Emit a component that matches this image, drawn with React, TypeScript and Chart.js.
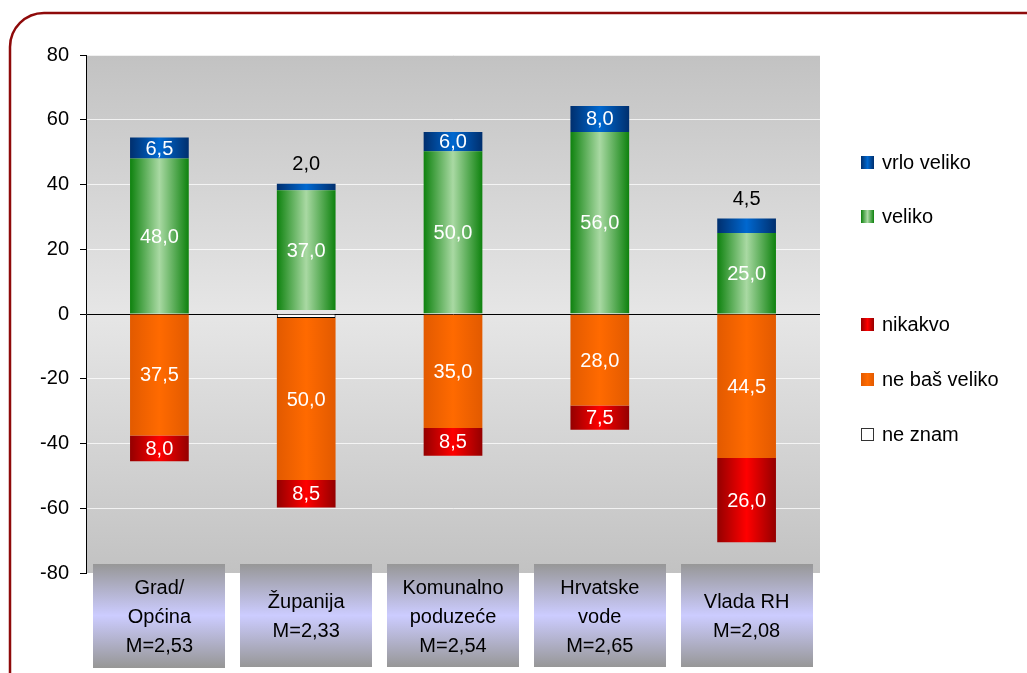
import React, { useEffect, useRef } from 'react';
import { Chart, registerables } from 'chart.js';

Chart.register(...registerables);

const categories: string[][] = [
  ['Grad/', 'Općina', 'M=2,53'],
  ['Županija', 'M=2,33'],
  ['Komunalno', 'poduzeće', 'M=2,54'],
  ['Hrvatske', 'vode', 'M=2,65'],
  ['Vlada RH', 'M=2,08'],
];
const vrloVeliko = [6.5, 2.0, 6.0, 8.0, 4.5];
const veliko = [48.0, 37.0, 50.0, 56.0, 25.0];
const neBasVeliko = [37.5, 50.0, 35.0, 28.0, 44.5];
const nikakvo = [8.0, 8.5, 8.5, 7.5, 26.0];
const neZnam = [0, 2.5, 0.5, 0.5, 0];
const yMin = -80;
const yMax = 80;
const yStep = 20;

const FONT = '"Liberation Sans", Arial, sans-serif';

const COLORS = {
  vrlo: ['#002f6e', '#0068d0'],
  veliko: ['#0e820e', '#a9d9a3'],
  neBas: ['#e25a00', '#ff6a00'],
  nikakvo: ['#940000', '#ff0000'],
};

const BAR_PCT = 0.4;

function barGrad(edge: string, center: string) {
  return (c: any) => {
    const chart = c.chart;
    const xs = chart.scales?.x;
    if (!xs || c.type !== 'data') return center;
    const cx = xs.getPixelForValue(c.dataIndex);
    const w = (xs.width / categories.length) * BAR_PCT;
    if (!isFinite(cx) || !isFinite(w) || w <= 0) return center;
    const g = chart.ctx.createLinearGradient(cx - w / 2, 0, cx + w / 2, 0);
    g.addColorStop(0, edge);
    g.addColorStop(0.5, center);
    g.addColorStop(1, edge);
    return g;
  };
}

const decorPlugin = {
  id: 'decor',
  beforeDraw(chart: any) {
    const { ctx, chartArea: a, width, height } = chart;
    ctx.save();
    ctx.fillStyle = '#ffffff';
    ctx.fillRect(0, 0, width, height);
    ctx.strokeStyle = '#8e0a0a';
    ctx.lineWidth = 2.5;
    ctx.beginPath();
    (ctx as any).roundRect(10, 13, 1060, 700, 34);
    ctx.stroke();
    const ys = chart.scales.y;
    const zero = ys.getPixelForValue(0);
    const g = ctx.createLinearGradient(0, a.top, 0, a.bottom);
    const zf = Math.min(1, Math.max(0, (zero - a.top) / (a.bottom - a.top)));
    g.addColorStop(0, '#c2c2c2');
    g.addColorStop(zf, '#e6e6e6');
    g.addColorStop(1, '#c2c2c2');
    ctx.fillStyle = g;
    ctx.fillRect(a.left, a.top, a.right - a.left, a.bottom - a.top);
    ctx.restore();
  },
  afterDatasetsDraw(chart: any) {
    const { ctx } = chart;
    ctx.save();
    chart.data.datasets.forEach((ds: any, di: number) => {
      if (ds.noLabel) return;
      const meta = chart.getDatasetMeta(di);
      meta.data.forEach((bar: any, i: number) => {
        const v = Math.abs(ds.data[i]);
        const p = bar.getProps(['x', 'y', 'base'], true);
        const txt = v.toFixed(1).replace('.', ',');
        const h = Math.abs(p.base - p.y);
        ctx.font = '20px ' + FONT;
        ctx.textAlign = 'center';
        ctx.textBaseline = 'middle';
        if (h < 18) {
          ctx.fillStyle = '#000000';
          ctx.fillText(txt, p.x, Math.min(p.y, p.base) - 19);
        } else {
          ctx.fillStyle = '#ffffff';
          ctx.fillText(txt, p.x, (p.y + p.base) / 2 + 1);
        }
      });
    });
    const xs = chart.scales.x;
    const a = chart.chartArea;
    const bw = 132;
    const top = a.bottom - 9;
    const bh = 103;
    categories.forEach((_, i) => {
      const cx = xs.getPixelForValue(i);
      const g = ctx.createLinearGradient(0, top, 0, top + bh);
      g.addColorStop(0, '#979797');
      g.addColorStop(0.5, '#ccccff');
      g.addColorStop(1, '#979797');
      ctx.fillStyle = g;
      ctx.fillRect(Math.round(cx - bw / 2), top, bw, i === 0 ? bh + 1 : bh);
    });
    ctx.restore();
  },
};

function LegendItem({ label, y, bg, border }: { label: string; y: number; bg: string; border?: string }) {
  return (
    <div style={{ position: 'absolute', left: 861, top: y - 12, height: 24, display: 'flex', alignItems: 'center' }}>
      <div
        style={{
          width: border ? 11 : 13,
          height: border ? 11 : 13,
          background: bg,
          border: border ? `1px solid ${border}` : 'none',
          marginRight: 8,
        }}
      />
      <span style={{ font: `20px ${FONT}`, color: '#000', whiteSpace: 'nowrap' }}>{label}</span>
    </div>
  );
}

export default function App() {
  const ref = useRef<HTMLCanvasElement | null>(null);

  useEffect(() => {
    if (!ref.current) return;
    const noFill = 'rgba(0,0,0,0)';
    const chart = new Chart(ref.current, {
      type: 'bar',
      data: {
        labels: categories as any,
        datasets: [
          { label: 'ne znam +', data: neZnam.map((v) => v / 2), backgroundColor: noFill, borderWidth: 0, noLabel: true } as any,
          { label: 'veliko', data: veliko, backgroundColor: barGrad(COLORS.veliko[0], COLORS.veliko[1]) as any, borderWidth: 0 },
          { label: 'vrlo veliko', data: vrloVeliko, backgroundColor: barGrad(COLORS.vrlo[0], COLORS.vrlo[1]) as any, borderWidth: 0 },
          {
            label: 'ne znam',
            data: neZnam.map((v) => -v / 2),
            backgroundColor: '#ffffff',
            borderColor: '#000000',
            borderWidth: 1,
            noLabel: true,
          } as any,
          { label: 'ne baš veliko', data: neBasVeliko.map((v) => -v), backgroundColor: barGrad(COLORS.neBas[0], COLORS.neBas[1]) as any, borderWidth: 0 },
          { label: 'nikakvo', data: nikakvo.map((v) => -v), backgroundColor: barGrad(COLORS.nikakvo[0], COLORS.nikakvo[1]) as any, borderWidth: 0 },
        ],
      },
      options: {
        responsive: false,
        animation: false,
        devicePixelRatio: 1,
        layout: { padding: { top: 55, right: 207, bottom: 0, left: 0 } },
        datasets: { bar: { barPercentage: BAR_PCT, categoryPercentage: 1 } },
        plugins: { legend: { display: false }, tooltip: { enabled: false } },
        scales: {
          x: {
            stacked: true,
            grid: { display: false, drawTicks: false },
            border: { display: false },
            ticks: {
              z: 1,
              autoSkip: false,
              maxRotation: 0,
              minRotation: 0,
              color: '#000000',
              font: { family: FONT, size: 20, lineHeight: 1.45 },
              padding: 15,
              crossAlign: 'center' as any,
            },
            afterFit: (s: any) => {
              s.height = 100;
            },
          },
          y: {
            stacked: true,
            min: yMin,
            max: yMax,
            grid: {
              color: (c: any) => (c.tick && c.tick.value === 0 ? '#000000' : 'rgba(255,255,255,0.75)'),
              tickColor: '#000000',
              tickLength: 6,
              lineWidth: 1,
            },
            border: { display: true, color: '#000000', width: 1 },
            ticks: {
              stepSize: yStep,
              color: '#000000',
              font: { family: FONT, size: 20 },
              padding: 11,
              callback: (v: any) => String(v),
            },
            afterFit: (s: any) => {
              s.width = 86;
            },
          },
        },
      },
      plugins: [decorPlugin],
    });
    return () => chart.destroy();
  }, []);

  return (
    <div style={{ position: 'absolute', left: 0, top: 0, width: 1027, height: 673, overflow: 'hidden', background: '#fff' }}>
      <canvas ref={ref} width={1027} height={673} style={{ display: 'block' }} />
      <LegendItem label="vrlo veliko" y={162} bg={`linear-gradient(90deg, ${COLORS.vrlo[0]}, ${COLORS.vrlo[1]}, ${COLORS.vrlo[0]})`} />
      <LegendItem label="veliko" y={216} bg={`linear-gradient(90deg, ${COLORS.veliko[0]}, ${COLORS.veliko[1]}, ${COLORS.veliko[0]})`} />
      <LegendItem label="nikakvo" y={324} bg={`linear-gradient(90deg, ${COLORS.nikakvo[0]}, ${COLORS.nikakvo[1]}, ${COLORS.nikakvo[0]})`} />
      <LegendItem label="ne baš veliko" y={379} bg={`linear-gradient(90deg, ${COLORS.neBas[0]}, ${COLORS.neBas[1]}, ${COLORS.neBas[0]})`} />
      <LegendItem label="ne znam" y={434} bg="#ffffff" border="#333333" />
    </div>
  );
}
